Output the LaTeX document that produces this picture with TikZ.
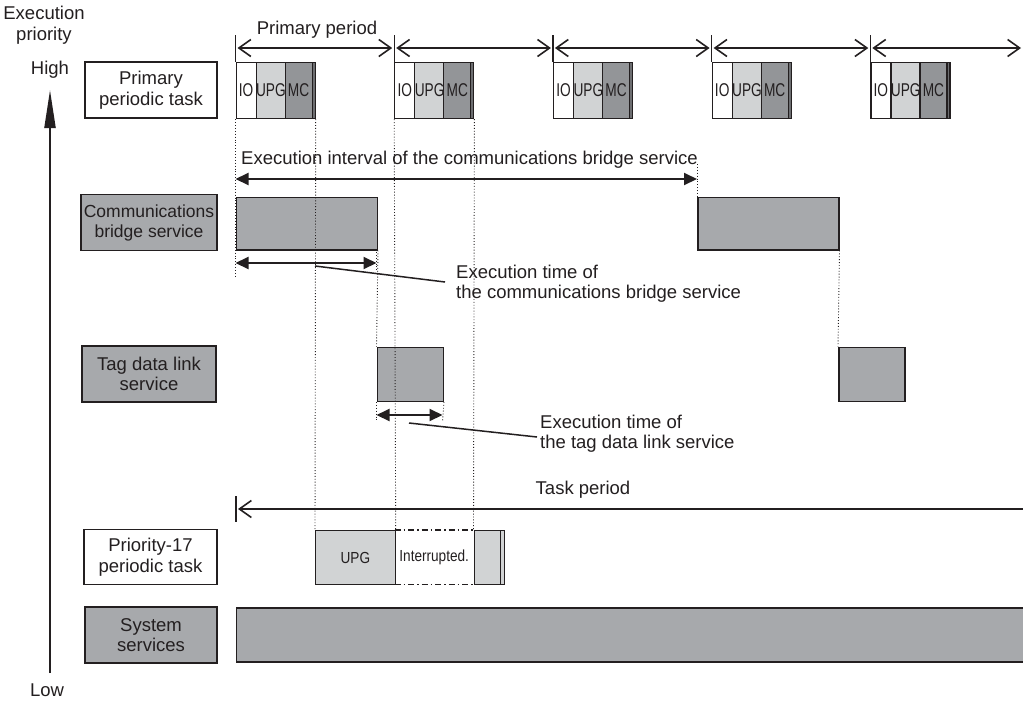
\documentclass[tikz,border=0pt]{standalone}
\usepackage{fontspec}
\setmainfont{Liberation Sans}
\usepackage{graphicx}
\usetikzlibrary{arrows.meta}
\definecolor{ink}{HTML}{231F20}
\definecolor{lg}{HTML}{D1D3D4}
\definecolor{mg}{HTML}{939598}
\definecolor{sg}{HTML}{A7A9AC}
\definecolor{dg}{HTML}{6D6E71}
\tikzset{
  lbl/.style={draw=ink, line width=1.3pt, align=center, inner sep=0pt, minimum width=133pt, minimum height=55pt, text=ink},
  gbox/.style={draw=ink, line width=1.5pt, fill=sg, inner sep=0pt},
  blk/.style={draw=ink, line width=1.2pt, inner sep=0pt, minimum height=56pt, text=ink},
  vdot/.style={draw=ink, line width=0.9pt, dotted},
  openarr/.style={draw=ink, line width=1.6pt, >={Straight Barb[length=12pt,width=17pt]}},
  fillarr/.style={draw=ink, line width=2pt, >={Triangle[length=13pt,width=12pt]}},
  leader/.style={draw=ink, line width=1.5pt},
  txt/.style={text=ink, inner sep=0pt, align=left}
}
\newcommand{\nar}[1]{\scalebox{0.74}[1]{#1}}
\newcommand{\narb}[1]{\scalebox{0.85}[1]{#1}}
\begin{document}
\begin{tikzpicture}[x=1pt,y=-1pt,font=\fontsize{18.5}{20.5}\selectfont]
\useasboundingbox (0,0) rectangle (1023,702);
\fill[white] (0,0) rectangle (1023,702);

% priority axis
\node[txt, align=center] (exprio) at (44,25) {Execution\\priority};
\node[txt] (high) at (50,70) {High};
\node[txt] (low) at (47,690) {Low};
\coordinate (axbot) at (50,673);
\coordinate (axtop) at (50,90);
\draw[ink, line width=2pt, -{Triangle[length=38pt,width=11pt]}] (axbot) -- (axtop);

% label boxes
\node[lbl, fill=white, minimum width=132pt, minimum height=56pt] (lprim) at (151,90) {Primary\\periodic task};
\node[lbl, fill=sg, minimum width=136pt, minimum height=56pt, font=\fontsize{17.5}{20}\selectfont] (lcomm) at (149,222.5) {Communications\\bridge service};
\node[lbl, fill=sg, minimum width=134pt, minimum height=56pt] (ltag) at (149,374) {Tag data link\\service};
\node[lbl, fill=white, minimum width=133pt, minimum height=55pt] (lp17) at (150.5,557) {Priority-17\\periodic task};
\node[lbl, fill=sg, minimum width=132pt, minimum height=56pt] (lsys) at (151,635) {System\\services};

% primary period arrows and blocks
\node[txt] (pptxt) at (317,30) {Primary period};
\foreach \k in {0,...,4} {
  \pgfmathsetmacro{\xa}{235.5+158.7*\k}
  \pgfmathsetmacro{\xb}{\xa+158.7}
  \coordinate (tt\k) at (\xa,35);
  \coordinate (tb\k) at (\xa,62);
  \draw[ink, line width=1.3pt] (tt\k) -- (tb\k);
  \coordinate (pa\k) at (\xa+2,48);
  \coordinate (pb\k) at ({min(\xb-2,1021)},48);
  \draw[openarr, <->] (pa\k) -- (pb\k);
  \node[blk, fill=white, minimum width=20pt, anchor=north west] (io\k) at (\xa,62) {\nar{IO}};
  \node[blk, fill=lg, minimum width=29pt, anchor=north west] (upg\k) at (\xa+20,62) {\nar{UPG}};
  \node[blk, fill=mg, minimum width=27pt, anchor=north west] (mc\k) at (\xa+49,62) {\nar{MC}};
  \node[blk, fill=dg, minimum width=3pt, anchor=north west] (st\k) at (\xa+76,62) {};
}

% communications bridge service
\node[gbox, minimum width=141pt, minimum height=52.5pt, anchor=north west] (cb1) at (235.5,196.5) {};
\node[gbox, minimum width=141pt, minimum height=52.5pt, anchor=north west] (cb2) at (697,196.5) {};
\node[txt, anchor=base west] (intxt) at (241,164.5) {Execution interval of the communications bridge service};
\coordinate (ia) at (235.5,179);
\coordinate (ib) at (697,179);
\draw[fillarr, <->] (ia) -- (ib);
\coordinate (ea) at (235.5,263);
\coordinate (eb) at (376.5,263);
\draw[fillarr, <->] (ea) -- (eb);
\node[txt, anchor=west] (et1) at (456,283.5) {Execution time of\\the communications bridge service};
\coordinate (l1a) at (315,266);
\coordinate (l1b) at (445,282);
\draw[leader] (l1a) -- (l1b);

% tag data link service
\node[gbox, minimum width=66pt, minimum height=54pt, anchor=north west] (tg1) at (376.5,346.5) {};
\node[gbox, minimum width=66pt, minimum height=54pt, anchor=north west] (tg2) at (838,346.5) {};
\coordinate (ta) at (376.5,415);
\coordinate (tb) at (442.5,415);
\draw[fillarr, <->] (ta) -- (tb);
\node[txt, anchor=west] (et2) at (540,433.5) {Execution time of\\the tag data link service};
\coordinate (l2a) at (409,423);
\coordinate (l2b) at (537,437);
\draw[leader] (l2a) -- (l2b);

% task period
\node[txt] (tptxt) at (583,490) {Task period};
\coordinate (tpt) at (236,496);
\coordinate (tpb) at (236,522);
\draw[ink, line width=1.3pt] (tpt) -- (tpb);
\coordinate (tpa) at (238,509);
\coordinate (tpe) at (1030,509);
\draw[openarr, <-] (tpa) -- (tpe);

% priority-17 periodic task
\node[blk, fill=lg, minimum width=79.5pt, minimum height=54pt, anchor=north west, font=\fontsize{16}{18}\selectfont] (p17a) at (315,530) {\narb{UPG}};
\node[inner sep=0pt, minimum width=79pt, minimum height=54pt, anchor=north west, font=\fontsize{16}{18}\selectfont, text=ink] (p17i) at (394.5,530) {\narb{Interrupted.}};
\draw[ink, line width=1.2pt, dash pattern=on 6pt off 3pt on 1.5pt off 3pt] (p17i.north west) -- (p17i.north east);
\draw[ink, line width=1.2pt, dash pattern=on 6pt off 3pt on 1.5pt off 3pt] (p17i.south west) -- (p17i.south east);
\node[blk, fill=lg, minimum width=30.5pt, minimum height=54pt, anchor=north west] (p17b) at (473.5,530) {};
\draw[ink, line width=1.2pt] ([xshift=-4.5pt]p17b.north east) -- ([xshift=-4.5pt]p17b.south east);

% system services
\node[gbox, minimum width=795pt, minimum height=54pt, anchor=north west] (sys) at (235.5,607) {};

% dotted guide lines
\draw[vdot] (io0.south west) -- (235.5,276);
\draw[vdot] (st0.south east) -- (p17a.north west);
\draw[vdot] (io1.south west) -- (p17a.north east);
\draw[vdot] (st1.south east) -- (p17b.north west);
\draw[vdot] (cb1.south east) -- (tg1.north west);
\draw[vdot] (376.5,249) -- (376.5,272);
\draw[vdot] (tg1.south west) -- (376.5,421);
\draw[vdot] (tg1.south east) -- (442.5,421);
\draw[vdot] (697,164) -- (cb2.north west);
\draw[vdot] (cb2.south east) -- (tg2.north west);
\end{tikzpicture}
\end{document}
